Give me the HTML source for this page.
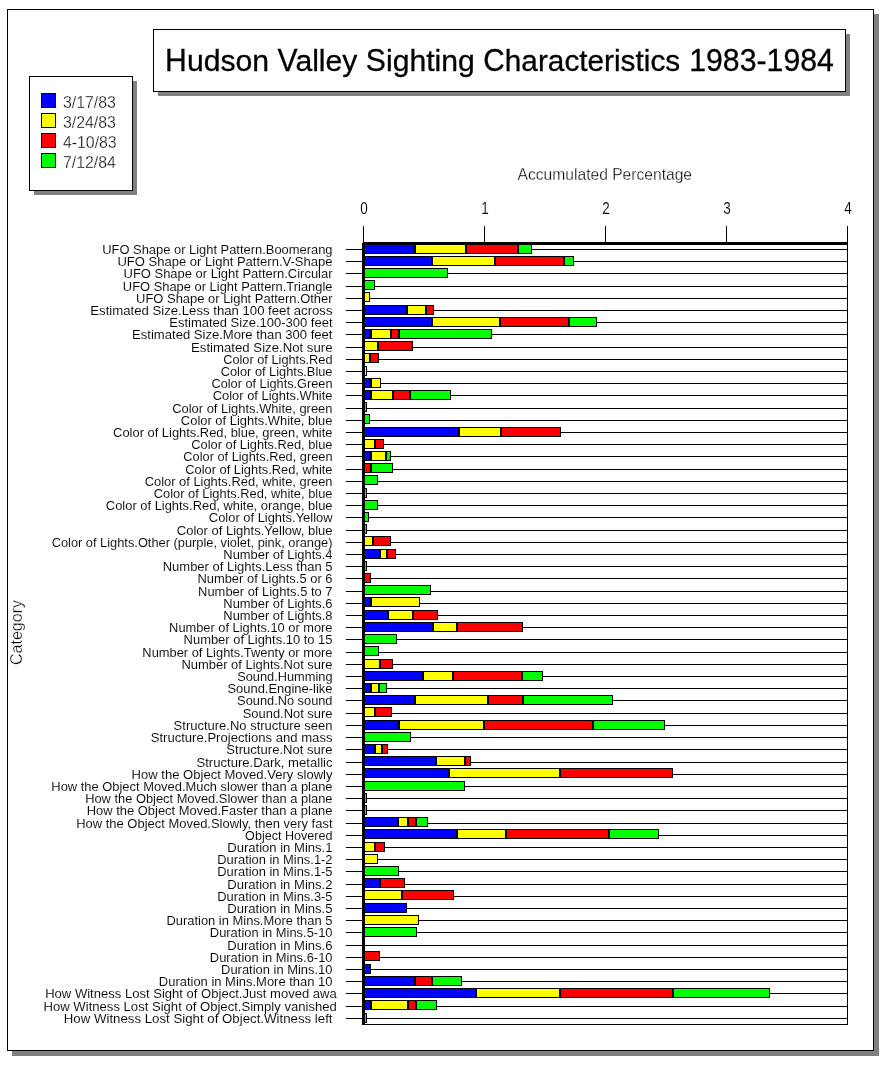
<!DOCTYPE html>
<html lang="en"><head><meta charset="utf-8"><title>Hudson Valley Sighting Characteristics 1983-1984</title>
<style>
html,body{margin:0;padding:0;background:#fff;}
body{width:889px;height:1065px;overflow:hidden;}
svg{display:block;}
text{font-family:"Liberation Sans",Arial,Helvetica,sans-serif;fill:#000;}
.lab{font-size:13px;text-anchor:end;stroke:#fff;stroke-width:0.08px;}
.ttl{font-size:30px;stroke:#000;stroke-width:0.3px;}
.leg{font-size:16px;stroke:#fff;stroke-width:0.3px;}
.axn{font-size:15px;text-anchor:middle;stroke:#fff;stroke-width:0.12px;}
.axt{font-size:16px;text-anchor:middle;stroke:#fff;stroke-width:0.3px;}
.k{fill:#000}.w{fill:#fff}.s{fill:#808080}
.B{fill:#0000ff}.Y{fill:#ffff00}.R{fill:#ff0000}.G{fill:#00ff00}
</style></head><body>
<svg width="889" height="1065" viewBox="0 0 889 1065" shape-rendering="crispEdges">
<rect class="w" x="0" y="0" width="889" height="1065"/>
<g id="frame">
<rect class="s" x="12" y="14" width="867" height="1042"/>
<rect class="k" x="7" y="9" width="867" height="1042"/>
<rect class="w" x="8" y="10" width="865" height="1040"/>
</g>
<g id="title">
<rect class="s" x="158" y="34" width="692" height="62"/>
<rect class="k" x="153" y="29" width="693" height="63"/>
<rect class="w" x="154" y="30" width="691" height="61"/>
<text class="ttl" transform="translate(165.1 71) scale(1.006 1)"><tspan x="0.00" font-size="32" textLength="21.67" lengthAdjust="spacingAndGlyphs">H</tspan><tspan x="21.66">udson</tspan> <tspan x="111.73" font-size="32" textLength="20.01" lengthAdjust="spacingAndGlyphs">V</tspan><tspan x="129.52">alley</tspan> <tspan x="199.55" font-size="32" textLength="20.01" lengthAdjust="spacingAndGlyphs">S</tspan><tspan x="219.56">ighting</tspan> <tspan x="316.30" font-size="32" textLength="21.37" lengthAdjust="spacingAndGlyphs">C</tspan><tspan x="337.68" textLength="174.32" lengthAdjust="spacingAndGlyphs">haracteristics</tspan> <tspan x="521.00" font-size="32" textLength="143.78" lengthAdjust="spacingAndGlyphs">1983-1984</tspan></text>
</g>
<g id="legend">
<rect class="s" x="34" y="81" width="103" height="114"/>
<rect class="k" x="29" y="76" width="104" height="115"/>
<rect class="w" x="30" y="77" width="102" height="113"/>
<rect class="k" x="41" y="93" width="15" height="15"/><rect class="B" x="42" y="94" width="13" height="13"/>
<text class="leg" transform="translate(62.9 108) scale(0.992 1.08)">3/17/83</text>
<rect class="k" x="41" y="113" width="15" height="15"/><rect class="Y" x="42" y="114" width="13" height="13"/>
<text class="leg" transform="translate(62.9 128) scale(0.992 1.08)">3/24/83</text>
<rect class="k" x="41" y="133" width="15" height="15"/><rect class="R" x="42" y="134" width="13" height="13"/>
<text class="leg" transform="translate(62.9 148) scale(0.992 1.08)">4-10/83</text>
<rect class="k" x="41" y="153" width="15" height="15"/><rect class="G" x="42" y="154" width="13" height="13"/>
<text class="leg" transform="translate(62.9 168) scale(0.992 1.08)">7/12/84</text>
</g>
<g id="axes">
<text class="axt" transform="translate(604.8 180) scale(0.977 1)">Accumulated Percentage</text>
<text class="axn" transform="translate(364.1 214) scale(0.9 1.07)">0</text>
<rect class="k" x="363" y="226" width="1" height="17"/>
<text class="axn" transform="translate(485.1 214) scale(0.9 1.07)">1</text>
<rect class="k" x="484" y="226" width="1" height="17"/>
<text class="axn" transform="translate(606.1 214) scale(0.9 1.07)">2</text>
<rect class="k" x="605" y="226" width="1" height="17"/>
<text class="axn" transform="translate(727.1 214) scale(0.9 1.07)">3</text>
<rect class="k" x="726" y="226" width="1" height="17"/>
<text class="axn" transform="translate(848.1 214) scale(0.9 1.07)">4</text>
<rect class="k" x="847" y="226" width="1" height="17"/>
<text class="axt" transform="translate(22 632.5) rotate(-90)">Category</text>
<rect class="k" x="847" y="226" width="1" height="799"/>
<rect class="k" x="362" y="1024" width="486" height="1"/>
</g>
<g id="grid">
<rect class="k" x="346" y="249" width="502" height="1"/>
<rect class="k" x="346" y="261" width="502" height="1"/>
<rect class="k" x="346" y="273" width="502" height="1"/>
<rect class="k" x="346" y="286" width="502" height="1"/>
<rect class="k" x="346" y="298" width="502" height="1"/>
<rect class="k" x="346" y="310" width="502" height="1"/>
<rect class="k" x="346" y="322" width="502" height="1"/>
<rect class="k" x="346" y="334" width="502" height="1"/>
<rect class="k" x="346" y="347" width="502" height="1"/>
<rect class="k" x="346" y="359" width="502" height="1"/>
<rect class="k" x="346" y="371" width="502" height="1"/>
<rect class="k" x="346" y="383" width="502" height="1"/>
<rect class="k" x="346" y="395" width="502" height="1"/>
<rect class="k" x="346" y="408" width="502" height="1"/>
<rect class="k" x="346" y="420" width="502" height="1"/>
<rect class="k" x="346" y="432" width="502" height="1"/>
<rect class="k" x="346" y="444" width="502" height="1"/>
<rect class="k" x="346" y="456" width="502" height="1"/>
<rect class="k" x="346" y="469" width="502" height="1"/>
<rect class="k" x="346" y="481" width="502" height="1"/>
<rect class="k" x="346" y="493" width="502" height="1"/>
<rect class="k" x="346" y="505" width="502" height="1"/>
<rect class="k" x="346" y="517" width="502" height="1"/>
<rect class="k" x="346" y="530" width="502" height="1"/>
<rect class="k" x="346" y="542" width="502" height="1"/>
<rect class="k" x="346" y="554" width="502" height="1"/>
<rect class="k" x="346" y="566" width="502" height="1"/>
<rect class="k" x="346" y="578" width="502" height="1"/>
<rect class="k" x="346" y="591" width="502" height="1"/>
<rect class="k" x="346" y="603" width="502" height="1"/>
<rect class="k" x="346" y="615" width="502" height="1"/>
<rect class="k" x="346" y="627" width="502" height="1"/>
<rect class="k" x="346" y="639" width="502" height="1"/>
<rect class="k" x="346" y="652" width="502" height="1"/>
<rect class="k" x="346" y="664" width="502" height="1"/>
<rect class="k" x="346" y="676" width="502" height="1"/>
<rect class="k" x="346" y="688" width="502" height="1"/>
<rect class="k" x="346" y="700" width="502" height="1"/>
<rect class="k" x="346" y="713" width="502" height="1"/>
<rect class="k" x="346" y="725" width="502" height="1"/>
<rect class="k" x="346" y="737" width="502" height="1"/>
<rect class="k" x="346" y="749" width="502" height="1"/>
<rect class="k" x="346" y="762" width="502" height="1"/>
<rect class="k" x="346" y="774" width="502" height="1"/>
<rect class="k" x="346" y="786" width="502" height="1"/>
<rect class="k" x="346" y="798" width="502" height="1"/>
<rect class="k" x="346" y="810" width="502" height="1"/>
<rect class="k" x="346" y="823" width="502" height="1"/>
<rect class="k" x="346" y="835" width="502" height="1"/>
<rect class="k" x="346" y="847" width="502" height="1"/>
<rect class="k" x="346" y="859" width="502" height="1"/>
<rect class="k" x="346" y="871" width="502" height="1"/>
<rect class="k" x="346" y="884" width="502" height="1"/>
<rect class="k" x="346" y="896" width="502" height="1"/>
<rect class="k" x="346" y="908" width="502" height="1"/>
<rect class="k" x="346" y="920" width="502" height="1"/>
<rect class="k" x="346" y="932" width="502" height="1"/>
<rect class="k" x="346" y="945" width="502" height="1"/>
<rect class="k" x="346" y="957" width="502" height="1"/>
<rect class="k" x="346" y="969" width="502" height="1"/>
<rect class="k" x="346" y="981" width="502" height="1"/>
<rect class="k" x="346" y="993" width="502" height="1"/>
<rect class="k" x="346" y="1006" width="502" height="1"/>
<rect class="k" x="346" y="1018" width="502" height="1"/>
</g>
<g id="bars">
<rect class="k" x="364" y="244" width="51" height="10"/><rect class="B" x="365" y="245" width="49" height="8"/>
<rect class="k" x="415" y="244" width="51" height="10"/><rect class="Y" x="416" y="245" width="49" height="8"/>
<rect class="k" x="466" y="244" width="52" height="10"/><rect class="R" x="467" y="245" width="50" height="8"/>
<rect class="k" x="518" y="244" width="14" height="10"/><rect class="G" x="519" y="245" width="12" height="8"/>
<rect class="k" x="364" y="256" width="68" height="10"/><rect class="B" x="365" y="257" width="66" height="8"/>
<rect class="k" x="432" y="256" width="63" height="10"/><rect class="Y" x="433" y="257" width="61" height="8"/>
<rect class="k" x="495" y="256" width="69" height="10"/><rect class="R" x="496" y="257" width="67" height="8"/>
<rect class="k" x="564" y="256" width="10" height="10"/><rect class="G" x="565" y="257" width="8" height="8"/>
<rect class="k" x="364" y="268" width="84" height="10"/><rect class="G" x="365" y="269" width="82" height="8"/>
<rect class="k" x="364" y="280" width="11" height="10"/><rect class="G" x="365" y="281" width="9" height="8"/>
<rect class="k" x="364" y="292" width="6" height="10"/><rect class="Y" x="365" y="293" width="4" height="8"/>
<rect class="k" x="364" y="305" width="43" height="10"/><rect class="B" x="365" y="306" width="41" height="8"/>
<rect class="k" x="407" y="305" width="19" height="10"/><rect class="Y" x="408" y="306" width="17" height="8"/>
<rect class="k" x="426" y="305" width="8" height="10"/><rect class="R" x="427" y="306" width="6" height="8"/>
<rect class="k" x="364" y="317" width="68" height="10"/><rect class="B" x="365" y="318" width="66" height="8"/>
<rect class="k" x="432" y="317" width="68" height="10"/><rect class="Y" x="433" y="318" width="66" height="8"/>
<rect class="k" x="500" y="317" width="69" height="10"/><rect class="R" x="501" y="318" width="67" height="8"/>
<rect class="k" x="569" y="317" width="28" height="10"/><rect class="G" x="570" y="318" width="26" height="8"/>
<rect class="k" x="364" y="329" width="7" height="10"/><rect class="B" x="365" y="330" width="5" height="8"/>
<rect class="k" x="371" y="329" width="20" height="10"/><rect class="Y" x="372" y="330" width="18" height="8"/>
<rect class="k" x="391" y="329" width="8" height="10"/><rect class="R" x="392" y="330" width="6" height="8"/>
<rect class="k" x="399" y="329" width="93" height="10"/><rect class="G" x="400" y="330" width="91" height="8"/>
<rect class="k" x="364" y="341" width="14" height="10"/><rect class="Y" x="365" y="342" width="12" height="8"/>
<rect class="k" x="378" y="341" width="35" height="10"/><rect class="R" x="379" y="342" width="33" height="8"/>
<rect class="k" x="364" y="353" width="6" height="10"/><rect class="Y" x="365" y="354" width="4" height="8"/>
<rect class="k" x="370" y="353" width="9" height="10"/><rect class="R" x="371" y="354" width="7" height="8"/>
<rect class="k" x="364" y="366" width="3" height="10"/><rect class="Y" x="365" y="367" width="1" height="8"/>
<rect class="k" x="364" y="378" width="7" height="10"/><rect class="B" x="365" y="379" width="5" height="8"/>
<rect class="k" x="371" y="378" width="10" height="10"/><rect class="Y" x="372" y="379" width="8" height="8"/>
<rect class="k" x="364" y="390" width="7" height="10"/><rect class="B" x="365" y="391" width="5" height="8"/>
<rect class="k" x="371" y="390" width="22" height="10"/><rect class="Y" x="372" y="391" width="20" height="8"/>
<rect class="k" x="393" y="390" width="17" height="10"/><rect class="R" x="394" y="391" width="15" height="8"/>
<rect class="k" x="410" y="390" width="41" height="10"/><rect class="G" x="411" y="391" width="39" height="8"/>
<rect class="k" x="364" y="402" width="3" height="10"/><rect class="G" x="365" y="403" width="1" height="8"/>
<rect class="k" x="364" y="414" width="6" height="10"/><rect class="G" x="365" y="415" width="4" height="8"/>
<rect class="k" x="364" y="427" width="95" height="10"/><rect class="B" x="365" y="428" width="93" height="8"/>
<rect class="k" x="459" y="427" width="42" height="10"/><rect class="Y" x="460" y="428" width="40" height="8"/>
<rect class="k" x="501" y="427" width="60" height="10"/><rect class="R" x="502" y="428" width="58" height="8"/>
<rect class="k" x="364" y="439" width="11" height="10"/><rect class="Y" x="365" y="440" width="9" height="8"/>
<rect class="k" x="375" y="439" width="9" height="10"/><rect class="R" x="376" y="440" width="7" height="8"/>
<rect class="k" x="364" y="451" width="7" height="10"/><rect class="B" x="365" y="452" width="5" height="8"/>
<rect class="k" x="371" y="451" width="15" height="10"/><rect class="Y" x="372" y="452" width="13" height="8"/>
<rect class="k" x="386" y="451" width="5" height="10"/><rect class="G" x="387" y="452" width="3" height="8"/>
<rect class="k" x="364" y="463" width="7" height="10"/><rect class="R" x="365" y="464" width="5" height="8"/>
<rect class="k" x="371" y="463" width="22" height="10"/><rect class="G" x="372" y="464" width="20" height="8"/>
<rect class="k" x="364" y="475" width="14" height="10"/><rect class="G" x="365" y="476" width="12" height="8"/>
<rect class="k" x="364" y="488" width="3" height="10"/><rect class="G" x="365" y="489" width="1" height="8"/>
<rect class="k" x="364" y="500" width="14" height="10"/><rect class="G" x="365" y="501" width="12" height="8"/>
<rect class="k" x="364" y="512" width="5" height="10"/><rect class="G" x="365" y="513" width="3" height="8"/>
<rect class="k" x="364" y="524" width="3" height="10"/><rect class="G" x="365" y="525" width="1" height="8"/>
<rect class="k" x="364" y="536" width="9" height="10"/><rect class="Y" x="365" y="537" width="7" height="8"/>
<rect class="k" x="373" y="536" width="18" height="10"/><rect class="R" x="374" y="537" width="16" height="8"/>
<rect class="k" x="364" y="549" width="16" height="10"/><rect class="B" x="365" y="550" width="14" height="8"/>
<rect class="k" x="380" y="549" width="7" height="10"/><rect class="Y" x="381" y="550" width="5" height="8"/>
<rect class="k" x="387" y="549" width="9" height="10"/><rect class="R" x="388" y="550" width="7" height="8"/>
<rect class="k" x="364" y="561" width="3" height="10"/><rect class="G" x="365" y="562" width="1" height="8"/>
<rect class="k" x="364" y="573" width="7" height="10"/><rect class="R" x="365" y="574" width="5" height="8"/>
<rect class="k" x="364" y="585" width="67" height="10"/><rect class="G" x="365" y="586" width="65" height="8"/>
<rect class="k" x="364" y="597" width="7" height="10"/><rect class="B" x="365" y="598" width="5" height="8"/>
<rect class="k" x="371" y="597" width="49" height="10"/><rect class="Y" x="372" y="598" width="47" height="8"/>
<rect class="k" x="364" y="610" width="24" height="10"/><rect class="B" x="365" y="611" width="22" height="8"/>
<rect class="k" x="388" y="610" width="25" height="10"/><rect class="Y" x="389" y="611" width="23" height="8"/>
<rect class="k" x="413" y="610" width="25" height="10"/><rect class="R" x="414" y="611" width="23" height="8"/>
<rect class="k" x="364" y="622" width="69" height="10"/><rect class="B" x="365" y="623" width="67" height="8"/>
<rect class="k" x="433" y="622" width="24" height="10"/><rect class="Y" x="434" y="623" width="22" height="8"/>
<rect class="k" x="457" y="622" width="66" height="10"/><rect class="R" x="458" y="623" width="64" height="8"/>
<rect class="k" x="364" y="634" width="33" height="10"/><rect class="G" x="365" y="635" width="31" height="8"/>
<rect class="k" x="364" y="646" width="15" height="10"/><rect class="G" x="365" y="647" width="13" height="8"/>
<rect class="k" x="364" y="659" width="16" height="10"/><rect class="Y" x="365" y="660" width="14" height="8"/>
<rect class="k" x="380" y="659" width="13" height="10"/><rect class="R" x="381" y="660" width="11" height="8"/>
<rect class="k" x="364" y="671" width="59" height="10"/><rect class="B" x="365" y="672" width="57" height="8"/>
<rect class="k" x="423" y="671" width="30" height="10"/><rect class="Y" x="424" y="672" width="28" height="8"/>
<rect class="k" x="453" y="671" width="69" height="10"/><rect class="R" x="454" y="672" width="67" height="8"/>
<rect class="k" x="522" y="671" width="21" height="10"/><rect class="G" x="523" y="672" width="19" height="8"/>
<rect class="k" x="364" y="683" width="7" height="10"/><rect class="B" x="365" y="684" width="5" height="8"/>
<rect class="k" x="371" y="683" width="8" height="10"/><rect class="Y" x="372" y="684" width="6" height="8"/>
<rect class="k" x="379" y="683" width="8" height="10"/><rect class="G" x="380" y="684" width="6" height="8"/>
<rect class="k" x="364" y="695" width="51" height="10"/><rect class="B" x="365" y="696" width="49" height="8"/>
<rect class="k" x="415" y="695" width="73" height="10"/><rect class="Y" x="416" y="696" width="71" height="8"/>
<rect class="k" x="488" y="695" width="35" height="10"/><rect class="R" x="489" y="696" width="33" height="8"/>
<rect class="k" x="523" y="695" width="90" height="10"/><rect class="G" x="524" y="696" width="88" height="8"/>
<rect class="k" x="364" y="707" width="11" height="10"/><rect class="Y" x="365" y="708" width="9" height="8"/>
<rect class="k" x="375" y="707" width="17" height="10"/><rect class="R" x="376" y="708" width="15" height="8"/>
<rect class="k" x="364" y="720" width="35" height="10"/><rect class="B" x="365" y="721" width="33" height="8"/>
<rect class="k" x="399" y="720" width="85" height="10"/><rect class="Y" x="400" y="721" width="83" height="8"/>
<rect class="k" x="484" y="720" width="109" height="10"/><rect class="R" x="485" y="721" width="107" height="8"/>
<rect class="k" x="593" y="720" width="72" height="10"/><rect class="G" x="594" y="721" width="70" height="8"/>
<rect class="k" x="364" y="732" width="47" height="10"/><rect class="G" x="365" y="733" width="45" height="8"/>
<rect class="k" x="364" y="744" width="11" height="10"/><rect class="B" x="365" y="745" width="9" height="8"/>
<rect class="k" x="375" y="744" width="7" height="10"/><rect class="Y" x="376" y="745" width="5" height="8"/>
<rect class="k" x="382" y="744" width="6" height="10"/><rect class="R" x="383" y="745" width="4" height="8"/>
<rect class="k" x="364" y="756" width="72" height="10"/><rect class="B" x="365" y="757" width="70" height="8"/>
<rect class="k" x="436" y="756" width="29" height="10"/><rect class="Y" x="437" y="757" width="27" height="8"/>
<rect class="k" x="465" y="756" width="6" height="10"/><rect class="R" x="466" y="757" width="4" height="8"/>
<rect class="k" x="364" y="768" width="85" height="10"/><rect class="B" x="365" y="769" width="83" height="8"/>
<rect class="k" x="449" y="768" width="111" height="10"/><rect class="Y" x="450" y="769" width="109" height="8"/>
<rect class="k" x="560" y="768" width="113" height="10"/><rect class="R" x="561" y="769" width="111" height="8"/>
<rect class="k" x="364" y="781" width="101" height="10"/><rect class="G" x="365" y="782" width="99" height="8"/>
<rect class="k" x="364" y="793" width="3" height="10"/><rect class="G" x="365" y="794" width="1" height="8"/>
<rect class="k" x="364" y="805" width="3" height="10"/><rect class="G" x="365" y="806" width="1" height="8"/>
<rect class="k" x="364" y="817" width="34" height="10"/><rect class="B" x="365" y="818" width="32" height="8"/>
<rect class="k" x="398" y="817" width="10" height="10"/><rect class="Y" x="399" y="818" width="8" height="8"/>
<rect class="k" x="408" y="817" width="8" height="10"/><rect class="R" x="409" y="818" width="6" height="8"/>
<rect class="k" x="416" y="817" width="12" height="10"/><rect class="G" x="417" y="818" width="10" height="8"/>
<rect class="k" x="364" y="829" width="93" height="10"/><rect class="B" x="365" y="830" width="91" height="8"/>
<rect class="k" x="457" y="829" width="49" height="10"/><rect class="Y" x="458" y="830" width="47" height="8"/>
<rect class="k" x="506" y="829" width="103" height="10"/><rect class="R" x="507" y="830" width="101" height="8"/>
<rect class="k" x="609" y="829" width="50" height="10"/><rect class="G" x="610" y="830" width="48" height="8"/>
<rect class="k" x="364" y="842" width="11" height="10"/><rect class="Y" x="365" y="843" width="9" height="8"/>
<rect class="k" x="375" y="842" width="10" height="10"/><rect class="R" x="376" y="843" width="8" height="8"/>
<rect class="k" x="364" y="854" width="14" height="10"/><rect class="Y" x="365" y="855" width="12" height="8"/>
<rect class="k" x="364" y="866" width="35" height="10"/><rect class="G" x="365" y="867" width="33" height="8"/>
<rect class="k" x="364" y="878" width="16" height="10"/><rect class="B" x="365" y="879" width="14" height="8"/>
<rect class="k" x="380" y="878" width="25" height="10"/><rect class="R" x="381" y="879" width="23" height="8"/>
<rect class="k" x="364" y="890" width="38" height="10"/><rect class="Y" x="365" y="891" width="36" height="8"/>
<rect class="k" x="402" y="890" width="52" height="10"/><rect class="R" x="403" y="891" width="50" height="8"/>
<rect class="k" x="364" y="903" width="43" height="10"/><rect class="B" x="365" y="904" width="41" height="8"/>
<rect class="k" x="364" y="915" width="55" height="10"/><rect class="Y" x="365" y="916" width="53" height="8"/>
<rect class="k" x="364" y="927" width="53" height="10"/><rect class="G" x="365" y="928" width="51" height="8"/>
<rect class="k" x="364" y="951" width="16" height="10"/><rect class="R" x="365" y="952" width="14" height="8"/>
<rect class="k" x="364" y="964" width="7" height="10"/><rect class="B" x="365" y="965" width="5" height="8"/>
<rect class="k" x="364" y="976" width="51" height="10"/><rect class="B" x="365" y="977" width="49" height="8"/>
<rect class="k" x="415" y="976" width="17" height="10"/><rect class="R" x="416" y="977" width="15" height="8"/>
<rect class="k" x="432" y="976" width="30" height="10"/><rect class="G" x="433" y="977" width="28" height="8"/>
<rect class="k" x="364" y="988" width="112" height="10"/><rect class="B" x="365" y="989" width="110" height="8"/>
<rect class="k" x="476" y="988" width="84" height="10"/><rect class="Y" x="477" y="989" width="82" height="8"/>
<rect class="k" x="560" y="988" width="113" height="10"/><rect class="R" x="561" y="989" width="111" height="8"/>
<rect class="k" x="673" y="988" width="97" height="10"/><rect class="G" x="674" y="989" width="95" height="8"/>
<rect class="k" x="364" y="1000" width="7" height="10"/><rect class="B" x="365" y="1001" width="5" height="8"/>
<rect class="k" x="371" y="1000" width="37" height="10"/><rect class="Y" x="372" y="1001" width="35" height="8"/>
<rect class="k" x="408" y="1000" width="8" height="10"/><rect class="R" x="409" y="1001" width="6" height="8"/>
<rect class="k" x="416" y="1000" width="21" height="10"/><rect class="G" x="417" y="1001" width="19" height="8"/>
<rect class="k" x="364" y="1013" width="3" height="10"/><rect class="G" x="365" y="1014" width="1" height="8"/>
</g>
<g id="axis-thick">
<rect class="k" x="362" y="243" width="3" height="782"/>
<rect class="k" x="363" y="242" width="485" height="3"/>
</g>
<g id="labels">
<text class="lab" transform="translate(332.5 254) scale(0.9938 1.03)">UFO Shape or Light Pattern.Boomerang</text>
<text class="lab" transform="translate(332.5 266) scale(1.0033 1.03)">UFO Shape or Light Pattern.V-Shape</text>
<text class="lab" transform="translate(332.5 278) scale(0.9982 1.03)">UFO Shape or Light Pattern.Circular</text>
<text class="lab" transform="translate(332.5 291) scale(0.9936 1.03)">UFO Shape or Light Pattern.Triangle</text>
<text class="lab" transform="translate(332.5 303) scale(0.9974 1.03)">UFO Shape or Light Pattern.Other</text>
<text class="lab" transform="translate(332.5 315) scale(1.0142 1.03)">Estimated Size.Less than 100 feet across</text>
<text class="lab" transform="translate(332.5 327) scale(1.0005 1.03)">Estimated Size.100-300 feet</text>
<text class="lab" transform="translate(332.5 339) scale(1.006 1.03)">Estimated Size.More than 300 feet</text>
<text class="lab" transform="translate(332.5 352) scale(1.0155 1.03)">Estimated Size.Not sure</text>
<text class="lab" transform="translate(332.5 364) scale(0.9827 1.03)">Color of Lights.Red</text>
<text class="lab" transform="translate(332.5 376) scale(0.9864 1.03)">Color of Lights.Blue</text>
<text class="lab" transform="translate(332.5 388) scale(0.9803 1.03)">Color of Lights.Green</text>
<text class="lab" transform="translate(332.5 400) scale(0.9935 1.03)">Color of Lights.White</text>
<text class="lab" transform="translate(332.5 413) scale(0.9961 1.03)">Color of Lights.White, green</text>
<text class="lab" transform="translate(332.5 425) scale(0.9953 1.03)">Color of Lights.White, blue</text>
<text class="lab" transform="translate(332.5 437) scale(0.9929 1.03)">Color of Lights.Red, blue, green, white</text>
<text class="lab" transform="translate(332.5 449) scale(0.987 1.03)">Color of Lights.Red, blue</text>
<text class="lab" transform="translate(332.5 461) scale(0.984 1.03)">Color of Lights.Red, green</text>
<text class="lab" transform="translate(332.5 474) scale(0.9903 1.03)">Color of Lights.Red, white</text>
<text class="lab" transform="translate(332.5 486) scale(0.9932 1.03)">Color of Lights.Red, white, green</text>
<text class="lab" transform="translate(332.5 498) scale(0.9904 1.03)">Color of Lights.Red, white, blue</text>
<text class="lab" transform="translate(332.5 510) scale(0.9935 1.03)">Color of Lights.Red, white, orange, blue</text>
<text class="lab" transform="translate(332.5 522) scale(0.9941 1.03)">Color of Lights.Yellow</text>
<text class="lab" transform="translate(332.5 535) scale(1.0021 1.03)">Color of Lights.Yellow, blue</text>
<text class="lab" transform="translate(332.5 547) scale(0.9866 1.03)">Color of Lights.Other (purple, violet, pink, orange)</text>
<text class="lab" transform="translate(332.5 559) scale(0.9945 1.03)">Number of Lights.4</text>
<text class="lab" transform="translate(332.5 571) scale(1.0009 1.03)">Number of Lights.Less than 5</text>
<text class="lab" transform="translate(332.5 583) scale(0.9955 1.03)">Number of Lights.5 or 6</text>
<text class="lab" transform="translate(332.5 596) scale(0.9955 1.03)">Number of Lights.5 to 7</text>
<text class="lab" transform="translate(332.5 608) scale(0.9945 1.03)">Number of Lights.6</text>
<text class="lab" transform="translate(332.5 620) scale(0.9945 1.03)">Number of Lights.8</text>
<text class="lab" transform="translate(332.5 632) scale(0.9883 1.03)">Number of Lights.10 or more</text>
<text class="lab" transform="translate(332.5 644) scale(0.9971 1.03)">Number of Lights.10 to 15</text>
<text class="lab" transform="translate(332.5 657) scale(0.9899 1.03)">Number of Lights.Twenty or more</text>
<text class="lab" transform="translate(332.5 669) scale(0.9973 1.03)">Number of Lights.Not sure</text>
<text class="lab" transform="translate(332.5 681) scale(0.9853 1.03)">Sound.Humming</text>
<text class="lab" transform="translate(332.5 693) scale(0.9971 1.03)">Sound.Engine-like</text>
<text class="lab" transform="translate(332.5 705) scale(0.9853 1.03)">Sound.No sound</text>
<text class="lab" transform="translate(332.5 718) scale(0.9945 1.03)">Sound.Not sure</text>
<text class="lab" transform="translate(332.5 730) scale(1.0002 1.03)">Structure.No structure seen</text>
<text class="lab" transform="translate(332.5 742) scale(1.0073 1.03)">Structure.Projections and mass</text>
<text class="lab" transform="translate(332.5 754) scale(1.0068 1.03)">Structure.Not sure</text>
<text class="lab" transform="translate(332.5 767) scale(1.008 1.03)">Structure.Dark, metallic</text>
<text class="lab" transform="translate(332.5 779) scale(1.0044 1.03)">How the Object Moved.Very slowly</text>
<text class="lab" transform="translate(332.5 791) scale(0.9936 1.03)">How the Object Moved.Much slower than a plane</text>
<text class="lab" transform="translate(332.5 803) scale(0.9898 1.03)">How the Object Moved.Slower than a plane</text>
<text class="lab" transform="translate(332.5 815) scale(0.995 1.03)">How the Object Moved.Faster than a plane</text>
<text class="lab" transform="translate(332.5 828) scale(0.9983 1.03)">How the Object Moved.Slowly, then very fast</text>
<text class="lab" transform="translate(332.5 840) scale(0.9681 1.03)">Object Hovered</text>
<text class="lab" transform="translate(332.5 852) scale(1.0067 1.03)">Duration in Mins.1</text>
<text class="lab" transform="translate(332.5 864) scale(0.9927 1.03)">Duration in Mins.1-2</text>
<text class="lab" transform="translate(332.5 876) scale(0.9927 1.03)">Duration in Mins.1-5</text>
<text class="lab" transform="translate(332.5 889) scale(1.0067 1.03)">Duration in Mins.2</text>
<text class="lab" transform="translate(332.5 901) scale(0.9927 1.03)">Duration in Mins.3-5</text>
<text class="lab" transform="translate(332.5 913) scale(1.0067 1.03)">Duration in Mins.5</text>
<text class="lab" transform="translate(332.5 925) scale(0.9967 1.03)">Duration in Mins.More than 5</text>
<text class="lab" transform="translate(332.5 937) scale(0.9943 1.03)">Duration in Mins.5-10</text>
<text class="lab" transform="translate(332.5 950) scale(1.0058 1.03)">Duration in Mins.6</text>
<text class="lab" transform="translate(332.5 962) scale(0.9943 1.03)">Duration in Mins.6-10</text>
<text class="lab" transform="translate(332.5 974) scale(0.9964 1.03)">Duration in Mins.10</text>
<text class="lab" transform="translate(332.5 986) scale(0.9983 1.03)">Duration in Mins.More than 10</text>
<text class="lab" transform="translate(336.8 998) scale(1.0048 1.03)">How Witness Lost Sight of Object.Just moved awa</text>
<text class="lab" transform="translate(336.8 1011) scale(1.0083 1.03)">How Witness Lost Sight of Object.Simply vanished</text>
<text class="lab" transform="translate(332.5 1023) scale(1.0202 1.03)">How Witness Lost Sight of Object.Witness left</text>
</g>
</svg>
</body></html>
